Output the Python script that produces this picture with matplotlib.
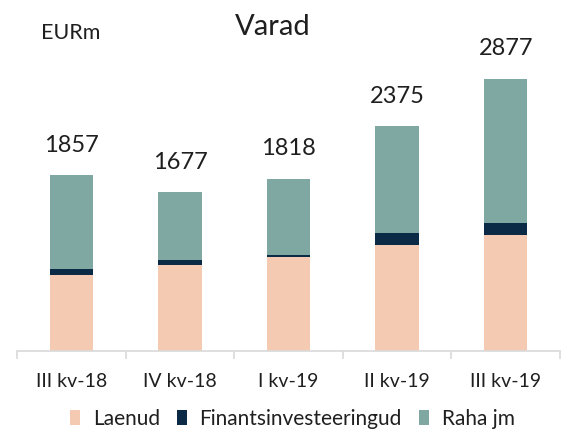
import matplotlib.pyplot as plt
import numpy as np

plt.rcParams['font.family'] = ['Lato', 'DejaVu Sans']

quarters = ['III kv-18', 'IV kv-18', 'I kv-19', 'II kv-19', 'III kv-19']
laenud = np.array([800, 906, 994, 1120, 1229])
finants = np.array([63, 60, 18, 124, 120])
raha = np.array([994, 711, 806, 1131, 1528])
totals = [1857, 1677, 1818, 2375, 2877]

c_laenud = '#F4CAB3'
c_fin = '#0B2A45'
c_raha = '#7FA8A2'
txt = '#1F1F1F'
grey = '#D9D9D9'

fig = plt.figure(figsize=(5.62, 4.30), dpi=100)
ax = fig.add_axes([17 / 562, 79 / 430, 543 / 562, 331 / 430])

x = np.arange(len(quarters))
w = 0.40
ax.bar(x, laenud, w, color=c_laenud, label='Laenud')
ax.bar(x, finants, w, bottom=laenud, color=c_fin, label='Finantsinvesteeringud')
ax.bar(x, raha, w, bottom=laenud + finants, color=c_raha, label='Raha jm')

for i, t in enumerate(totals):
    ax.annotate(str(t), (x[i], t), xytext=(0, 17), textcoords='offset points',
                ha='center', va='baseline', fontsize=17, color=txt)

ax.set_xlim(-0.5, 4.5)
ax.set_ylim(0, 3500)
ax.set_yticks([])
for s in ['top', 'left', 'right']:
    ax.spines[s].set_visible(False)
ax.spines['bottom'].set_color(grey)
ax.spines['bottom'].set_linewidth(1.2)

ax.set_xticks(x)
ax.set_xticklabels(quarters, fontsize=14, color=txt)
ax.tick_params(axis='x', which='major', length=0, pad=16)
ax.set_xticks(np.arange(-0.5, 5, 1), minor=True)
ax.tick_params(axis='x', which='minor', length=6, width=1.2, color=grey)

fig.text(273 / 562, (430 - 35) / 430, 'Varad', ha='center', va='baseline',
         fontsize=21, color=txt)
fig.text(41 / 562, (430 - 39) / 430, 'EURm', ha='left', va='baseline',
         fontsize=15.5, color=txt)

fig.legend(loc='center', bbox_to_anchor=(0.52, 0.026), ncol=3, frameon=False,
           fontsize=15, handlelength=0.5, handleheight=0.75, handletextpad=0.6,
           columnspacing=0.8, labelcolor=txt)

fig.savefig('out.png', dpi=100)
